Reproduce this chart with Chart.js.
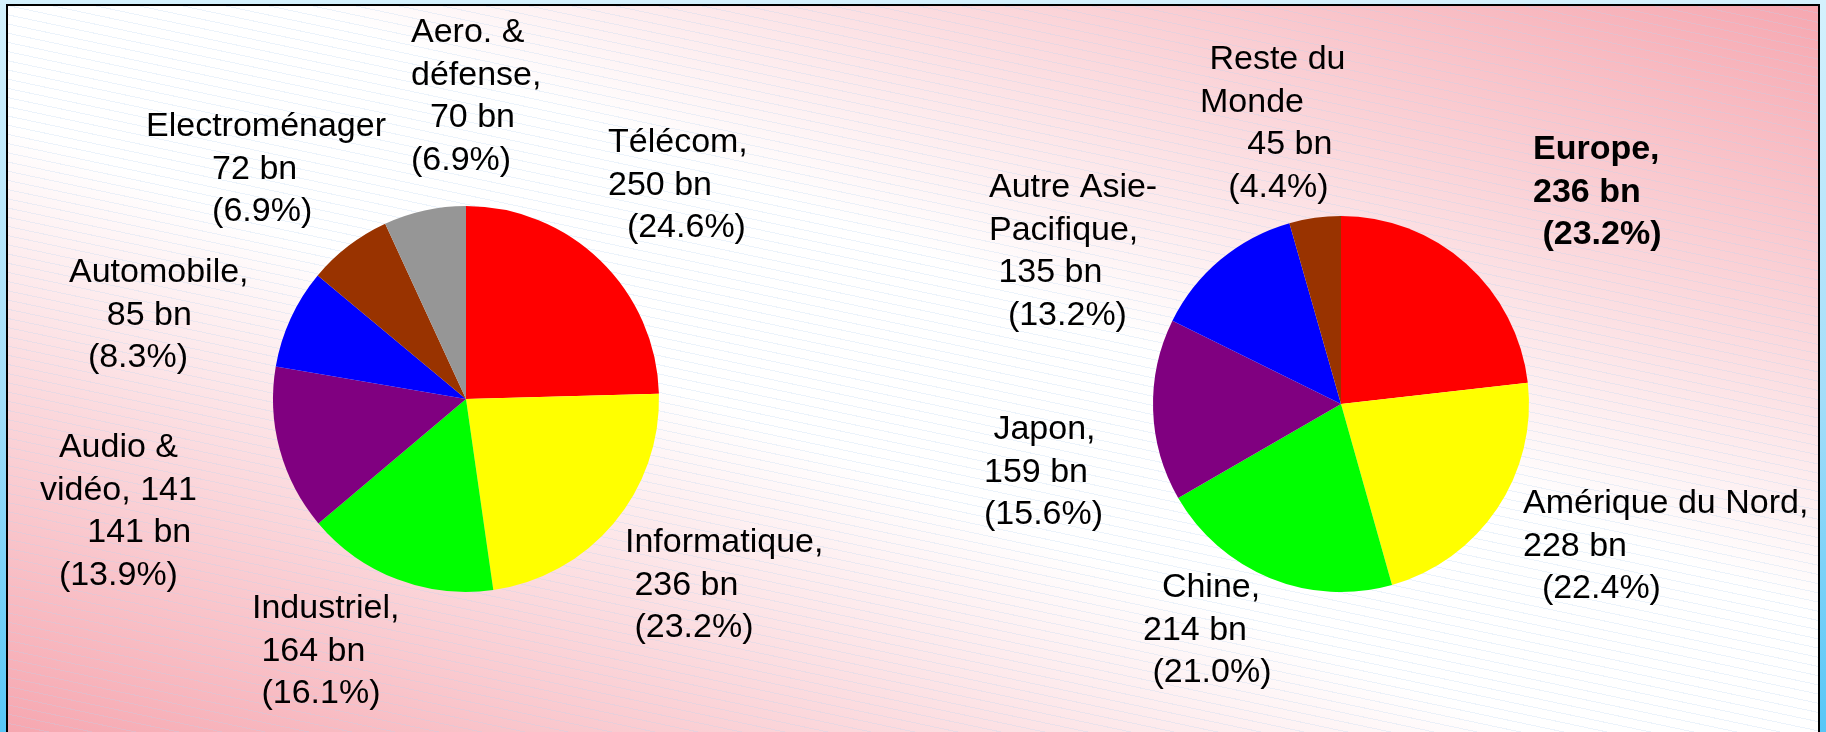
<!DOCTYPE html>
<html>
<head>
<meta charset="utf-8">
<script src="https://cdn.jsdelivr.net/npm/chart.js@4.4.1/dist/chart.umd.min.js"></script>
<style>
  html, body { margin: 0; padding: 0; }
  body {
    width: 1826px; height: 732px; overflow: hidden; position: relative;
    background: linear-gradient(to bottom, #d4f1fd 0%, #a2ddf9 55%, #57c7f7 100%);
  }
  #panel {
    position: absolute; left: 6px; top: 4px; width: 1810px; height: 726px;
    border: 2px solid #000; border-bottom: none;
    background:
      repeating-linear-gradient(12deg, rgba(185,212,240,0) 0px, rgba(185,212,240,0) 8px,
        rgba(185,212,240,0.28) 8px, rgba(185,212,240,0.28) 9px),
      linear-gradient(to bottom left, #f6a7b0 0%, #ffffff 42%, #ffffff 58%, #f6a7b0 100%);
  }
  canvas { position: absolute; top: 6px; }
  #secteurs { left: 8px; }
  #regions { left: 913px; }
</style>
</head>
<body>
<div id="panel"></div>
<canvas id="secteurs" width="905" height="726"></canvas>
<canvas id="regions" width="905" height="726"></canvas>
<script>
  // Données : marché par secteur
  const sectors = ['Télécom', 'Informatique', 'Industriel', 'Audio & vidéo', 'Automobile', 'Electroménager', 'Aero. & défense'];
  const sectorValues = [250, 236, 164, 141, 85, 72, 70];
  const sectorPct = ['24.6%', '23.2%', '16.1%', '13.9%', '8.3%', '6.9%', '6.9%'];

  // Données : marché par région
  const regions = ['Europe', 'Amérique du Nord', 'Chine', 'Japon', 'Autre Asie-Pacifique', 'Reste du Monde'];
  const regionValues = [236, 228, 214, 159, 135, 45];
  const regionPct = ['23.2%', '22.4%', '21.0%', '15.6%', '13.2%', '4.4%'];

  const sectorColors = ['#ff0000', '#ffff00', '#00ff00', '#800080', '#0000ff', '#993300', '#969696'];
  const regionColors = ['#ff0000', '#ffff00', '#00ff00', '#800080', '#0000ff', '#993300'];

  // position des étiquettes par rapport au centre du camembert
  const sectorLayout = [
    { name: ['Télécom,'], dx: 142, dy: -247, ind: [0, 0, 2] },
    { name: ['Informatique,'], dx: 159, dy: 153, ind: [0, 1, 1] },
    { name: ['Industriel,'], dx: -214, dy: 219, ind: [0, 1, 1] },
    { name: ['Audio &', 'vidéo, 141'], dx: -426, dy: 58, ind: [2, 0, 5, 2] },
    { name: ['Automobile,'], dx: -397, dy: -117, ind: [0, 4, 2] },
    { name: ['Electroménager'], dx: -320, dy: -263, ind: [0, 7, 7] },
    { name: ['Aero. &', 'défense,'], dx: -55, dy: -357, ind: [0, 0, 2, 0] }
  ];
  const regionLayout = [
    { name: ['Europe,'], dx: 192, dy: -245, ind: [0, 0, 1], bold: true },
    { name: ['Amérique du Nord,'], dx: 182, dy: 109, ind: [0, 0, 2] },
    { name: ['Chine,'], dx: -198, dy: 193, ind: [2, 0, 1] },
    { name: ['Japon,'], dx: -357, dy: 35, ind: [1, 0, 0] },
    { name: ['Autre Asie-', 'Pacifique,'], dx: -352, dy: -207, ind: [0, 0, 1, 2] },
    { name: ['Reste du', 'Monde'], dx: -141, dy: -335, ind: [1, 0, 5, 3] }
  ];

  const LINE_H = 42.5;

  const sliceLabels = {
    id: 'sliceLabels',
    afterDraw(chart, args, opts) {
      const arc = chart.getDatasetMeta(0).data[0];
      const values = chart.data.datasets[0].data;
      const ctx = chart.ctx;
      ctx.save();
      ctx.fillStyle = '#000';
      ctx.textAlign = 'left';
      ctx.textBaseline = 'alphabetic';
      opts.layout.forEach((L, i) => {
        const lines = L.name.concat([values[i] + ' bn', '(' + opts.pct[i] + ')']);
        ctx.font = (L.bold ? 'bold ' : '') + '34px "Liberation Sans", Arial, sans-serif';
        lines.forEach((t, k) => {
          ctx.fillText(' '.repeat(L.ind[k] || 0) + t, arc.x + L.dx, arc.y + L.dy + k * LINE_H);
        });
      });
      ctx.restore();
    }
  };

  function makePie(id, labels, values, colors, radius, padding, layout, pct) {
    return new Chart(document.getElementById(id), {
      type: 'pie',
      data: {
        labels: labels,
        datasets: [{ data: values, backgroundColor: colors, borderWidth: 0, hoverOffset: 0 }]
      },
      options: {
        responsive: false,
        animation: false,
        devicePixelRatio: 1,
        events: [],
        radius: radius,
        layout: { padding: padding },
        plugins: {
          legend: { display: false },
          tooltip: { enabled: false },
          sliceLabels: { layout: layout, pct: pct }
        }
      },
      plugins: [sliceLabels]
    });
  }

  makePie('secteurs', sectors, sectorValues, sectorColors, 193,
    { left: 11, right: 0, top: 60, bottom: 0 }, sectorLayout, sectorPct);
  makePie('regions', regions, regionValues, regionColors, 188,
    { left: 0, right: 49, top: 70, bottom: 0 }, regionLayout, regionPct);
</script>
</body>
</html>
